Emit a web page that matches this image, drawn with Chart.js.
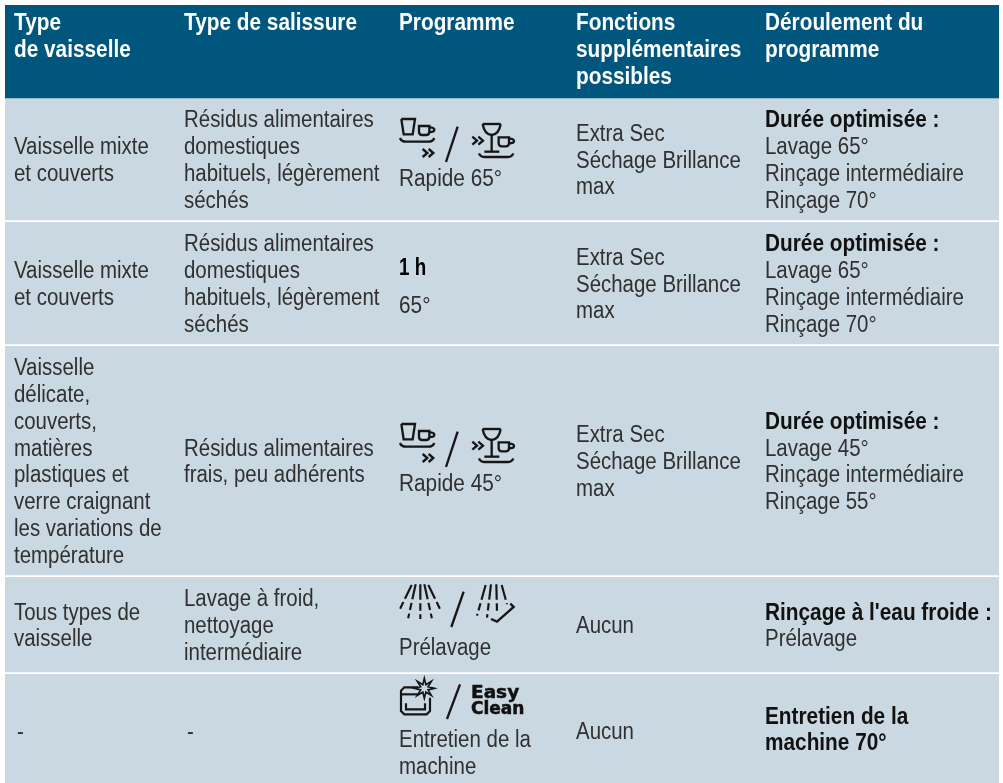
<!DOCTYPE html>
<html>
<head>
<meta charset="utf-8">
<style>
  html, body { margin: 0; padding: 0; background: #fff; }
  canvas { display: block; }
</style>
<script src="https://cdn.jsdelivr.net/npm/chart.js@4"></script>
</head>
<body>
<canvas id="programTable" width="1003" height="783"></canvas>
<script>
const headers = [
  ['Type', 'de vaisselle'],
  ['Type de salissure'],
  ['Programme'],
  ['Fonctions', 'supplémentaires', 'possibles'],
  ['Déroulement du', 'programme']
];
const rowHeights = [93, 124, 124, 231, 97, 109];
const dishTypes = [
  ['Vaisselle mixte', 'et couverts'],
  ['Vaisselle mixte', 'et couverts'],
  ['Vaisselle', 'délicate,', 'couverts,', 'matières', 'plastiques et', 'verre craignant', 'les variations de', 'température'],
  ['Tous types de', 'vaisselle'],
  ['-']
];
const soilTypes = [
  ['Résidus alimentaires', 'domestiques', 'habituels, légèrement', 'séchés'],
  ['Résidus alimentaires', 'domestiques', 'habituels, légèrement', 'séchés'],
  ['Résidus alimentaires', 'frais, peu adhérents'],
  ['Lavage à froid,', 'nettoyage', 'intermédiaire'],
  ['-']
];
const programNames = [
  ['Rapide 65°'],
  ['65°'],
  ['Rapide 45°'],
  ['Prélavage'],
  ['Entretien de la', 'machine']
];
const extraFunctions = [
  ['Extra Sec', 'Séchage Brillance', 'max'],
  ['Extra Sec', 'Séchage Brillance', 'max'],
  ['Extra Sec', 'Séchage Brillance', 'max'],
  ['Aucun'],
  ['Aucun']
];
const sequences = [
  ['Durée optimisée :', 'Lavage 65°', 'Rinçage intermédiaire', 'Rinçage 70°'],
  ['Durée optimisée :', 'Lavage 65°', 'Rinçage intermédiaire', 'Rinçage 70°'],
  ['Durée optimisée :', 'Lavage 45°', 'Rinçage intermédiaire', 'Rinçage 55°'],
  ["Rinçage à l'eau froide :", 'Prélavage'],
  ['Entretien de la', 'machine 70°']
];
const boldLeadLines = [1, 1, 1, 1, 2];

const HEADER_BLUE = '#00567c';
const ROW_BLUE = '#cad8e2';
const INK = '#303030';
const ICON_INK = '#161616';
const COL_X = [14, 184, 399, 576, 765];
const LINE = 26.8;
const FONT = 'Liberation Sans';

function textLine(ctx, str, x, y, bold, color, squeeze) {
  ctx.save();
  ctx.translate(x, y);
  ctx.scale(squeeze || (bold ? 0.885 : 0.87), 1);
  ctx.font = (bold ? 'bold ' : '') + '23.5px "' + FONT + '"';
  ctx.fillStyle = color;
  ctx.textBaseline = 'alphabetic';
  ctx.fillText(str, 0, 0);
  ctx.restore();
}

function seg(ctx, pts) {
  ctx.beginPath();
  pts.forEach((p, i) => i ? ctx.lineTo(p[0], p[1]) : ctx.moveTo(p[0], p[1]));
  ctx.stroke();
}

function chevrons(ctx, x, y) {
  seg(ctx, [[x, y], [x + 14, y + 12], [x, y + 24]]);
  seg(ctx, [[x + 18, y], [x + 32, y + 12], [x + 18, y + 24]]);
}

function cup(ctx, x, y) {
  ctx.beginPath();
  ctx.moveTo(x, y);
  ctx.lineTo(x + 31, y);
  ctx.lineTo(x + 31, y + 18);
  ctx.quadraticCurveTo(x + 30, y + 27, x + 22, y + 27);
  ctx.lineTo(x + 9, y + 27);
  ctx.quadraticCurveTo(x + 1, y + 27, x, y + 18);
  ctx.closePath();
  ctx.stroke();
  ctx.beginPath();
  ctx.moveTo(x + 31, y + 4);
  ctx.quadraticCurveTo(x + 46, y + 4, x + 46, y + 11);
  ctx.quadraticCurveTo(x + 46, y + 18, x + 31, y + 18);
  ctx.stroke();
}

function tray(ctx, x0, x1, y) {
  ctx.beginPath();
  ctx.moveTo(x0, y);
  ctx.quadraticCurveTo(x0 + 4, y + 11, x0 + 18, y + 11);
  ctx.lineTo(x1 - 18, y + 11);
  ctx.quadraticCurveTo(x1 - 4, y + 11, x1, y);
  ctx.stroke();
}

// icon pair coordinates are in 3x crop units, origin = ox,oy
function quickIcons(ctx, ox, oy) {
  ctx.save();
  ctx.translate(ox, oy);
  ctx.scale(1 / 3, 1 / 3);
  ctx.strokeStyle = ICON_INK;
  ctx.lineWidth = 7;
  seg(ctx, [[49, 57], [90, 57], [83, 103], [56, 103], [49, 57]]);
  cup(ctx, 102, 78);
  tray(ctx, 45, 148, 114);
  chevrons(ctx, 113, 147);
  seg(ctx, [[218, 80], [183, 186]]);
  chevrons(ctx, 262, 110);
  seg(ctx, [[293, 72], [347, 72]]);
  ctx.beginPath();
  ctx.moveTo(293, 72);
  ctx.quadraticCurveTo(298, 103, 320, 105);
  ctx.quadraticCurveTo(342, 103, 347, 72);
  ctx.stroke();
  seg(ctx, [[320, 105], [320, 155]]);
  seg(ctx, [[298, 155], [343, 155]]);
  cup(ctx, 341, 112);
  tray(ctx, 282, 385, 160);
  ctx.restore();
}

function sprayIcons(ctx, ox, oy) {
  ctx.save();
  ctx.translate(ox, oy);
  ctx.scale(1 / 3, 1 / 3);
  ctx.strokeStyle = ICON_INK;
  ctx.lineWidth = 6.5;
  ctx.setLineDash([46, 11, 22, 11, 14, 30]);
  [[[80, 30], [44, 104]], [[92, 28], [68, 136]], [[106, 28], [106, 136]], [[118, 28], [142, 136]], [[130, 30], [166, 104]]]
    .forEach(r => seg(ctx, r));
  [[[302, 30], [276, 122]], [[318, 28], [306, 128]], [[334, 28], [336, 112]], [[350, 30], [366, 88]]]
    .forEach(r => seg(ctx, r));
  ctx.setLineDash([]);
  ctx.lineWidth = 7;
  seg(ctx, [[318, 132], [336, 140], [386, 96], [376, 86]]);
  seg(ctx, [[236, 50], [199, 156]]);
  ctx.restore();
}

function cleanIcons(ctx, ox, oy) {
  ctx.save();
  ctx.translate(ox, oy);
  ctx.scale(1 / 3, 1 / 3);
  ctx.strokeStyle = ICON_INK;
  ctx.lineWidth = 6.5;
  seg(ctx, [[100, 337], [58, 337], [48, 347], [48, 408], [58, 418], [125, 418], [135, 408], [135, 368]]);
  seg(ctx, [[48, 358], [100, 358]]);
  seg(ctx, [[63, 385], [63, 403], [120, 403], [120, 385]]);
  ctx.lineWidth = 5;
  ctx.beginPath();
  for (let i = 0; i < 16; i++) {
    const a = i * Math.PI / 8;
    const r = i % 2 ? 12 : 30;
    ctx.lineTo(118 + Math.cos(a) * r, 340 + Math.sin(a) * r);
  }
  ctx.closePath();
  ctx.stroke();
  ctx.lineWidth = 7;
  seg(ctx, [[225, 328], [186, 432]]);
  ctx.restore();
  ctx.save();
  ctx.fillStyle = '#111';
  ctx.strokeStyle = '#111';
  ctx.lineWidth = 0.5;
  ctx.font = 'bold 18.5px "DejaVu Sans"';
  ctx.fillText('Easy', ox + 86, oy + 123);
  ctx.strokeText('Easy', ox + 86, oy + 123);
  ctx.font = 'bold 17px "DejaVu Sans"';
  ctx.fillText('Clean', ox + 86, oy + 139);
  ctx.strokeText('Clean', ox + 86, oy + 139);
  ctx.restore();
}

const tableText = {
  id: 'tableText',
  afterDatasetsDraw(chart) {
    const ctx = chart.ctx;
    const y = chart.scales.y;
    let start = 0;
    const rowTop = [];
    rowHeights.forEach(h => { rowTop.push(y.getPixelForValue(start)); start += h; });

    headers.forEach((lines, c) => {
      lines.forEach((l, i) => textLine(ctx, l, COL_X[c], rowTop[0] + 25 + i * LINE, true, '#fff'));
    });

    const columns = [dishTypes, soilTypes, null, extraFunctions, sequences];
    for (let r = 0; r < 5; r++) {
      const top = rowTop[r + 1];
      const bottom = r < 4 ? rowTop[r + 2] - 2 : chart.chartArea.bottom;
      const mid = (top + bottom) / 2;
      columns.forEach((col, c) => {
        if (!col) return;
        const lines = col[r];
        lines.forEach((l, i) => {
          const bold = c === 4 && i < boldLeadLines[r];
          let by = mid + (i - (lines.length - 1) / 2) * LINE + 8.5;
          if (r === 4 && lines.length === 1) by += 2;
          textLine(ctx, l, COL_X[c] + (l === '-' ? 3 : 0), by, bold, bold ? '#111' : INK);
        });
      });
    }

    // program column has icons above its label
    textLine(ctx, programNames[0][0], COL_X[2], rowTop[1] + 88, false, INK, 0.885);
    quickIcons(ctx, 385, rowTop[1] + 2);
    textLine(ctx, '1 h', COL_X[2], rowTop[2] + 53, true, '#000', 0.8);
    textLine(ctx, programNames[1][0], COL_X[2], rowTop[2] + 91, false, INK, 0.885);
    textLine(ctx, programNames[2][0], COL_X[2], rowTop[3] + 145, false, INK, 0.885);
    quickIcons(ctx, 385, rowTop[3] + 59);
    textLine(ctx, programNames[3][0], COL_X[2], rowTop[4] + 78, false, INK);
    sprayIcons(ctx, 385, rowTop[4] - 2);
    programNames[4].forEach((l, i) => textLine(ctx, l, COL_X[2], rowTop[5] + 73 + i * LINE, false, INK));
    cleanIcons(ctx, 385, rowTop[4] - 2);
  }
};

new Chart(document.getElementById('programTable'), {
  type: 'bar',
  data: {
    labels: ['table'],
    datasets: rowHeights.map((h, i) => ({
      data: [h],
      backgroundColor: i === 0 ? HEADER_BLUE : ROW_BLUE,
      borderColor: '#fff',
      borderSkipped: false,
      borderWidth: (i === 0 || i === rowHeights.length - 1) ? 0 : { top: 0, left: 0, right: 0, bottom: 2 },
      barPercentage: 1,
      categoryPercentage: 1
    }))
  },
  options: {
    responsive: false,
    animation: false,
    layout: { padding: { left: 5, right: 4, top: 5, bottom: 0 } },
    plugins: { legend: { display: false }, tooltip: { enabled: false } },
    scales: {
      x: { display: false, stacked: true },
      y: { display: false, stacked: true, reverse: true, min: 0, max: 778 }
    }
  },
  plugins: [tableText]
});
</script>
</body>
</html>
